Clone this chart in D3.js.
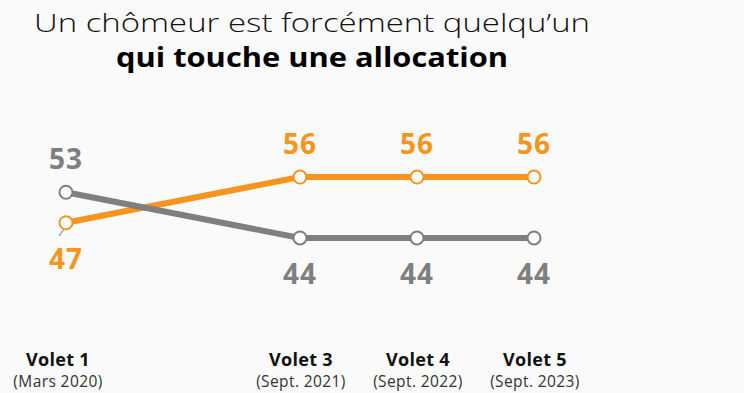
<!DOCTYPE html>
<html>
<head>
<meta charset="utf-8">
<script src="https://cdn.jsdelivr.net/npm/d3@7"></script>
<style>
  html, body { margin: 0; padding: 0; background: #fafafa; }
  svg { display: block; font-family: "Open Sans", "Noto Sans", sans-serif; }
</style>
</head>
<body>
<svg id="chart" width="744" height="393"></svg>
<script>
// Survey waves (Volet 2 did not ask the question, so it stays empty)
const waves = ["Volet 1", "Volet 2", "Volet 3", "Volet 4", "Volet 5"];
const waveDates = ["(Mars 2020)", "", "(Sept. 2021)", "(Sept. 2022)", "(Sept. 2023)"];
const waveLabels = ["Volet 1", "", "Volet 3", "Volet 4", "Volet 5"];

// Share of respondents (%), null where the wave has no answer
const orangeValues = [47, null, 56, 56, 56];
const grayValues = [53, null, 44, 44, 44];

const titleLines = ["Un chômeur est forcément quelqu’un", "qui touche une allocation"];

const orange = "#f7941d";
const gray = "#7f7f7f";

const svg = d3.select("#chart");

// Title
svg.append("text")
  .attr("x", 312).attr("y", 32)
  .attr("text-anchor", "middle")
  .attr("font-size", 26).attr("font-weight", 300).attr("fill", "#111")
  .attr("textLength", 556).attr("lengthAdjust", "spacingAndGlyphs")
  .text(titleLines[0]);
svg.append("text")
  .attr("x", 312).attr("y", 67)
  .attr("text-anchor", "middle")
  .attr("font-size", 26).attr("font-weight", 700).attr("fill", "#000")
  .attr("textLength", 392).attr("lengthAdjust", "spacingAndGlyphs")
  .text(titleLines[1]);

const x = d3.scalePoint().domain(waves).range([66, 534]);
const y = d3.scaleLinear().domain([40, 60]).range([258.3, 156.7]);

const series = [
  { name: "orange", color: orange, values: orangeValues, other: grayValues },
  { name: "gray", color: gray, values: grayValues, other: orangeValues }
];

const line = d3.line().x(d => x(d.wave)).y(d => y(d.value));

// Small leader tick beside the first orange point
svg.append("line")
  .attr("x1", x(waves[0]) - 1).attr("y1", y(orangeValues[0]) + 5)
  .attr("x2", x(waves[0]) - 7).attr("y2", y(orangeValues[0]) + 13)
  .attr("stroke", "#aaa").attr("stroke-width", 1.5);

series.forEach(s => {
  const pts = waves.map((w, i) => ({ wave: w, value: s.values[i], other: s.other[i] }))
    .filter(d => d.value != null);

  svg.append("path")
    .datum(pts)
    .attr("d", line)
    .attr("fill", "none")
    .attr("stroke", s.color)
    .attr("stroke-width", 6);

  const g = svg.append("g");
  g.selectAll("circle")
    .data(pts).join("circle")
    .attr("cx", d => x(d.wave)).attr("cy", d => y(d.value))
    .attr("r", 6.5)
    .attr("fill", "#fff")
    .attr("stroke", s.color).attr("stroke-width", 2);

  g.selectAll("text")
    .data(pts).join("text")
    .attr("x", d => x(d.wave))
    .attr("y", d => d.value > d.other ? y(d.value) - 23 : y(d.value) + 46)
    .attr("text-anchor", "middle")
    .attr("font-size", 28).attr("font-weight", 700)
    .attr("letter-spacing", 1)
    .attr("fill", s.color)
    .text(d => d.value);
});

// Wave labels along the bottom
const axis = svg.append("g");
axis.selectAll("text.wave")
  .data(waves).join("text")
  .attr("class", "wave")
  .attr("x", d => x(d)).attr("y", 366)
  .attr("dx", (d, i) => i === 0 ? -8 : 1)
  .attr("text-anchor", "middle")
  .attr("font-size", 18).attr("font-weight", 700).attr("fill", "#111")
  .attr("letter-spacing", 0.3)
  .text((d, i) => waveLabels[i]);
axis.selectAll("text.date")
  .data(waves).join("text")
  .attr("class", "date")
  .attr("x", d => x(d)).attr("y", 387)
  .attr("dx", (d, i) => i === 0 ? -8 : 1)
  .attr("text-anchor", "middle")
  .attr("font-size", 15.5).attr("fill", "#333")
  .attr("letter-spacing", 0.4)
  .text((d, i) => waveDates[i]);
</script>
</body>
</html>
